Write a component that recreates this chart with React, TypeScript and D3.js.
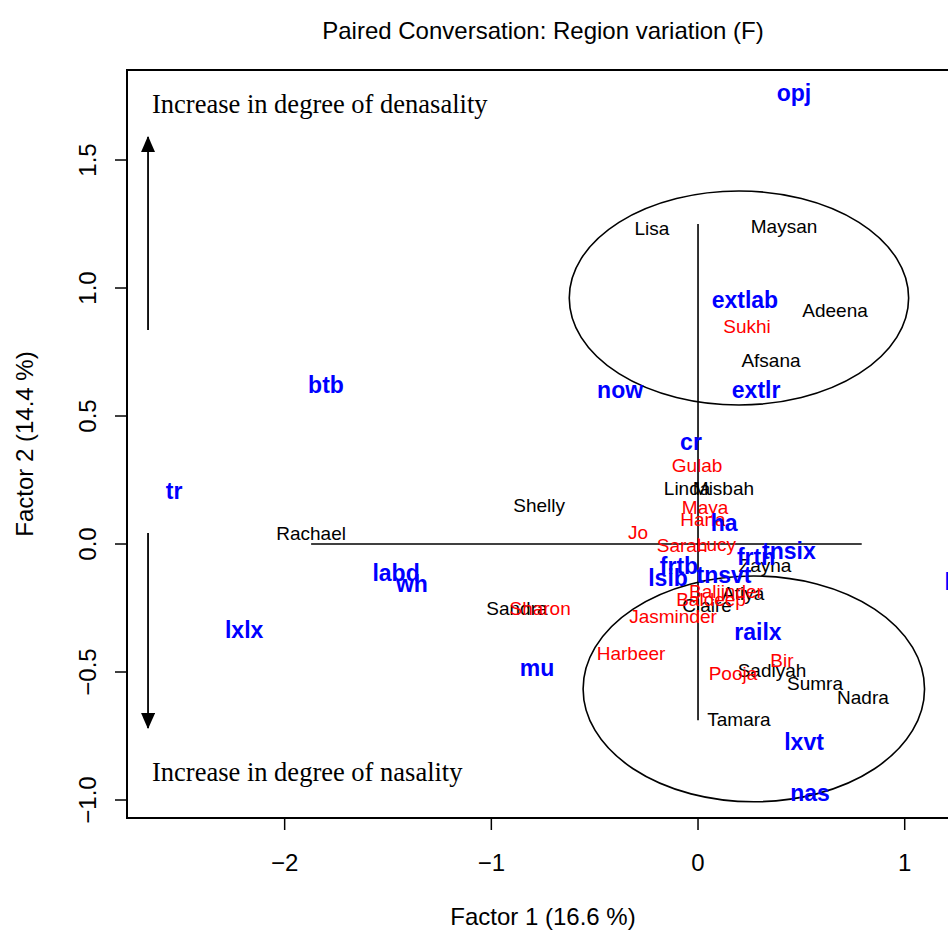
import React from "react";
import * as d3 from "d3";

// ---- Data (factor coordinates) ----
const variableLabels = ["opj", "extlab", "extlr", "now", "btb", "cr", "tr", "ha", "frtn", "tnsix", "frtb", "lsib", "tnsvt", "labd", "wh", "lxlx", "mu", "railx", "lxvt", "nas", "lxsix"];
const variableF1 = [0.464, 0.227, 0.281, -0.377, -1.8, -0.034, -2.535, 0.126, 0.281, 0.44, -0.092, -0.145, 0.126, -1.461, -1.384, -2.196, -0.779, 0.29, 0.513, 0.542, 1.316];
const variableF2 = [1.762, 0.953, 0.602, 0.602, 0.621, 0.398, 0.207, 0.082, -0.051, -0.027, -0.086, -0.133, -0.121, -0.113, -0.156, -0.336, -0.484, -0.344, -0.773, -0.973, -0.148];

const blackSpeakers = ["Lisa", "Maysan", "Adeena", "Afsana", "Linda", "Misbah", "Shelly", "Rachael", "Zayna", "Sandra", "Atiya", "Claire", "Sadiyah", "Sumra", "Nadra", "Tamara"];
const blackF1 = [-0.223, 0.416, 0.663, 0.353, -0.053, 0.123, -0.769, -1.872, 0.324, -0.876, 0.218, 0.044, 0.358, 0.566, 0.798, 0.198];
const blackF2 = [1.234, 1.242, 0.914, 0.719, 0.219, 0.219, 0.152, 0.043, -0.082, -0.25, -0.191, -0.238, -0.492, -0.543, -0.598, -0.684];

const redSpeakers = ["Sukhi", "Gulab", "Maya", "Hana", "Jo", "Sarah", "Lucy", "Baljinder", "Baldeep", "Jasminder", "Sharon", "Harbeer", "Pooja", "Bir"];
const redF1 = [0.237, -0.005, 0.034, 0.024, -0.29, -0.077, 0.087, 0.135, 0.063, -0.121, -0.764, -0.324, 0.169, 0.406];
const redF2 = [0.852, 0.309, 0.145, 0.098, 0.047, -0.004, 0.0, -0.184, -0.215, -0.281, -0.25, -0.426, -0.504, -0.453];

const xTicks = [-2, -1, 0, 1];
const yTicks = [-1.0, -0.5, 0.0, 0.5, 1.0, 1.5];

// ellipses: centre and radii in factor units
const ellipseCx = [0.198, 0.27];
const ellipseCy = [0.961, -0.566];
const ellipseRx = [0.821, 0.826];
const ellipseRy = [0.418, 0.441];

const titleText = "Paired Conversation: Region variation (F)";
const xLabel = "Factor 1  (16.6 %)";
const yLabel = "Factor 2  (14.4 %)";
const topNote = "Increase in degree of denasality";
const bottomNote = "Increase in degree of nasality";

// ---- Layout ----
const W = 948;
const H = 931;
const plotL = 127;
const plotR = 959;
const plotT = 70;
const plotB = 818;

const xScale = d3.scaleLinear().domain([-2.7628, 1.2627]).range([plotL, plotR]);
const yScale = d3.scaleLinear().domain([-1.0703, 1.8516]).range([plotB, plotT]);

const SANS = "'Liberation Sans', Arial, Helvetica, sans-serif";
const SERIF = "'Liberation Serif', 'Times New Roman', serif";

export default function App() {
  const fmtY = (v: number) => (v < 0 ? "\u2212" : "") + Math.abs(v).toFixed(1);
  const fmtX = (v: number) => (v < 0 ? "\u2212" : "") + Math.abs(v).toString();
  const arrowX = xScale(-2.661);

  return (
    <svg
      width={W}
      height={H}
      viewBox={`0 0 ${W} ${H}`}
      style={{ position: "absolute", left: 0, top: 0, background: "#fff" }}
    >
      <defs>
        <clipPath id="plotClip">
          <rect x={plotL} y={plotT} width={plotR - plotL} height={plotB - plotT} />
        </clipPath>
        <marker id="arrowHead" viewBox="0 0 16 14" refX="15" refY="7" markerWidth="16" markerHeight="14" markerUnits="userSpaceOnUse" orient="auto">
          <path d="M0,0 L16,7 L0,14 z" fill="#000" />
        </marker>
      </defs>
      <rect x={0} y={0} width={W} height={H} fill="#fff" />

      {/* Title */}
      <text x={543} y={39} textAnchor="middle" fontFamily={SANS} fontSize={24} fill="#000">
        {titleText}
      </text>

      {/* Axis labels */}
      <text x={543} y={925} textAnchor="middle" fontFamily={SANS} fontSize={24} fill="#000">
        {xLabel}
      </text>
      <text transform={`translate(25, ${(plotT + plotB) / 2}) rotate(-90)`} dy="0.35em" textAnchor="middle" fontFamily={SANS} fontSize={24} fill="#000">
        {yLabel}
      </text>

      {/* X axis ticks */}
      {xTicks.map((t) => (
        <g key={"xt" + t}>
          <line x1={xScale(t)} x2={xScale(t)} y1={plotB} y2={plotB + 12} stroke="#000" strokeWidth={1.5} />
          <text x={xScale(t)} y={871} textAnchor="middle" fontFamily={SANS} fontSize={24} fill="#000">
            {fmtX(t)}
          </text>
        </g>
      ))}
      {/* Y axis ticks */}
      {yTicks.map((t) => (
        <g key={"yt" + t}>
          <line x1={plotL - 12} x2={plotL} y1={yScale(t)} y2={yScale(t)} stroke="#000" strokeWidth={1.5} />
          <text transform={`translate(88, ${yScale(t)}) rotate(-90)`} dy="0.35em" textAnchor="middle" fontFamily={SANS} fontSize={24} fill="#000">
            {fmtY(t)}
          </text>
        </g>
      ))}

      {/* Plot box */}
      <rect x={plotL} y={plotT} width={plotR - plotL} height={plotB - plotT} fill="none" stroke="#000" strokeWidth={2} />

      <g clipPath="url(#plotClip)">
        {/* Cross lines */}
        <line x1={xScale(-1.872)} x2={xScale(0.792)} y1={yScale(0)} y2={yScale(0)} stroke="#000" strokeWidth={1.6} />
        <line x1={xScale(0)} x2={xScale(0)} y1={yScale(1.25)} y2={yScale(-0.688)} stroke="#000" strokeWidth={1.6} />

        {/* Ellipses */}
        {ellipseCx.map((cx, i) => (
          <ellipse
            key={"el" + i}
            cx={xScale(cx)}
            cy={yScale(ellipseCy[i])}
            rx={xScale(ellipseRx[i]) - xScale(0)}
            ry={yScale(0) - yScale(ellipseRy[i])}
            fill="none"
            stroke="#000"
            strokeWidth={1.6}
          />
        ))}

        {/* Arrows */}
        <line x1={arrowX} x2={arrowX} y1={yScale(0.836)} y2={yScale(1.59)} stroke="#000" strokeWidth={1.8} markerEnd="url(#arrowHead)" />
        <line x1={arrowX} x2={arrowX} y1={yScale(0.043)} y2={yScale(-0.719)} stroke="#000" strokeWidth={1.8} markerEnd="url(#arrowHead)" />

        {/* Notes */}
        <text x={152} y={113} fontFamily={SERIF} fontSize={26.5} fill="#000">
          {topNote}
        </text>
        <text x={152} y={781} fontFamily={SERIF} fontSize={26.5} fill="#000">
          {bottomNote}
        </text>

        {/* Black speakers */}
        {blackSpeakers.map((n, i) => (
          <text key={"b" + n} x={xScale(blackF1[i])} y={yScale(blackF2[i])} dy="0.35em" textAnchor="middle" fontFamily={SANS} fontSize={19} fill="#000">
            {n}
          </text>
        ))}
        {/* Red speakers */}
        {redSpeakers.map((n, i) => (
          <text key={"r" + n} x={xScale(redF1[i])} y={yScale(redF2[i])} dy="0.35em" textAnchor="middle" fontFamily={SANS} fontSize={19} fill="#FF0000">
            {n}
          </text>
        ))}
        {/* Blue variables */}
        {variableLabels.map((n, i) => (
          <text key={"v" + n} x={xScale(variableF1[i])} y={yScale(variableF2[i])} dy="0.35em" textAnchor="middle" fontFamily={SANS} fontWeight="bold" fontSize={23} fill="#0000FF">
            {n}
          </text>
        ))}
      </g>
    </svg>
  );
}
